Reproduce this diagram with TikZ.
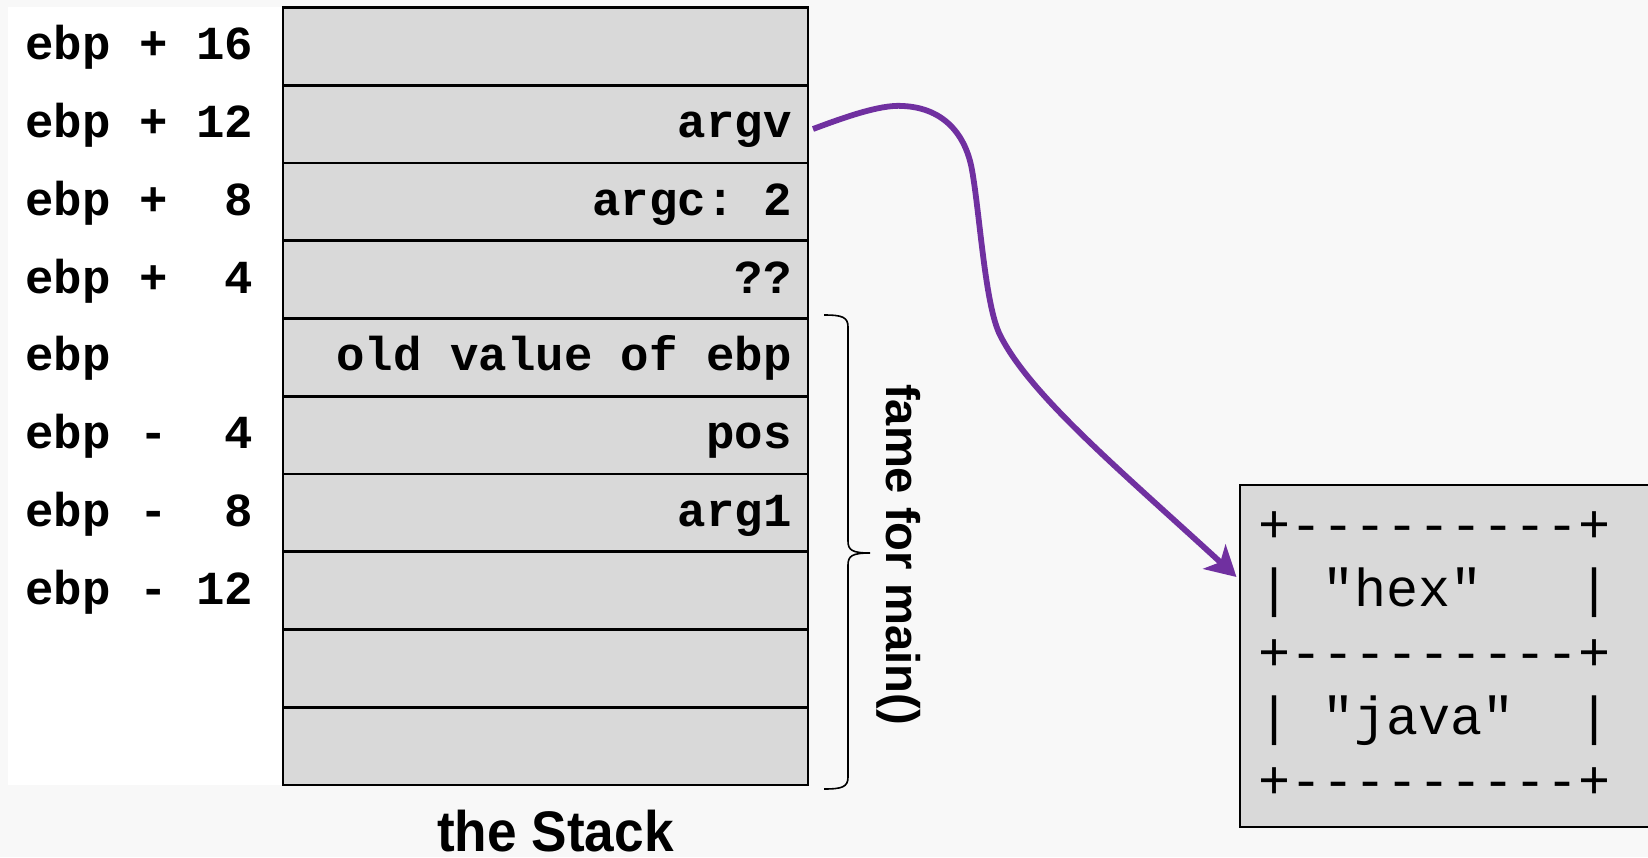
\documentclass[tikz,border=0pt]{standalone}
\usepackage{fontspec}
\setmonofont{Liberation Mono}
\newfontfamily\sansfam{Liberation Sans}
\usetikzlibrary{arrows.meta}
\definecolor{bgcol}{HTML}{F8F8F8}
\definecolor{cellgray}{HTML}{D9D9D9}
\definecolor{argpurple}{HTML}{7030A0}
\tikzset{
  cellbox/.style={draw, line width=1.4pt, fill=cellgray, minimum width=262.5pt,
    minimum height=38.88pt, anchor=north west, inner sep=0pt, outer sep=0pt},
  offlbl/.style={font=\ttfamily\bfseries\fontsize{23.7}{28}\selectfont, anchor=base west, inner sep=0pt},
  celltxt/.style={font=\ttfamily\bfseries\fontsize{23.7}{28}\selectfont, anchor=base east, inner sep=0pt},
  boxline/.style={font=\ttfamily\fontsize{26.7}{32}\selectfont, anchor=base west, inner sep=0pt},
  ptrline/.style={draw=argpurple, line width=2.9pt,
    -{Stealth[length=15pt, width=16.5pt, inset=4pt, color=argpurple]}},
  bracepath/.style={draw, line width=0.8pt},
}
\begin{document}
\begin{tikzpicture}[x=0.5pt,y=-0.5pt]
\useasboundingbox (0,0) rectangle (1648,857);
\clip (0,0) rectangle (1648,857);
\fill[bgcol] (0,0) rectangle (1648,857);
\fill[white] (8,7.4) rectangle (283,785);
% stack cells
\foreach \i in {0,...,9}{
  \node[cellbox] (c\i) at (283,{7.4+77.76*\i}) {};
}
% offsets
\node[offlbl] (o0) at (25,59.8) {ebp + 16};
\node[offlbl] (o1) at (25,137.6) {ebp + 12};
\node[offlbl] (o2) at (25,215.3) {ebp + \phantom{1}8};
\node[offlbl] (o3) at (25,293.1) {ebp + \phantom{1}4};
\node[offlbl] (o4) at (25,370.8) {ebp};
\node[offlbl] (o5) at (25,448.6) {ebp - \phantom{1}4};
\node[offlbl] (o6) at (25,526.4) {ebp - \phantom{1}8};
\node[offlbl] (o7) at (25,604.1) {ebp - 12};
% cell contents
\node[celltxt] (argv) at (792,137.6) {argv};
\node[celltxt] (argc) at (792,215.3) {argc: 2};
\node[celltxt] (ret) at (792,293.1) {??};
\node[celltxt] (oldebp) at (792,370.8) {old value of ebp};
\node[celltxt] (pos) at (792,448.6) {pos};
\node[celltxt] (arg1) at (792,526.4) {arg1};
% brace
\draw[bracepath] (824,315) .. controls (842,315) and (848,317) .. (848,327)
  -- (848,541) .. controls (848,550) and (852,553) .. (870,553)
  .. controls (852,553) and (848,556) .. (848,565)
  -- (848,777) .. controls (848,787) and (842,789) .. (824,789);
\node[rotate=-90, font=\sansfam\bfseries\fontsize{23.6}{28}\selectfont, inner sep=0pt] (frame) at (899,554.5) {fame for main()};
\node[font=\sansfam\bfseries\fontsize{28.6}{32}\selectfont, anchor=base, inner sep=0pt] (title) at (555.5,851) {\scalebox{0.93}[1]{the Stack}};
% strings box
\node[draw, line width=1pt, fill=cellgray, anchor=north west, minimum width=220pt,
  minimum height=171pt, inner sep=0pt] (box) at (1239.3,484) {};
\node[boxline] (b1) at (1258,542) {+---------+};
\node[boxline] (b2) at (1258,606) {|~"hex"~~~|};
\node[boxline] (b3) at (1258,670) {+---------+};
\node[boxline] (b4) at (1258,734) {|~"java"~~|};
\node[boxline] (b5) at (1258,798) {+---------+};
% pointer
\coordinate (ps) at (813,129);
\coordinate (pt) at (1236.5,577);
\draw[ptrline] (ps) .. controls (840,119) and (880,104) .. (903,106)
  .. controls (945,108) and (966,136) .. (972,170)
  .. controls (980,215) and (985,305) .. (1000,335)
  .. controls (1030,395) and (1120,470) .. (pt);
\end{tikzpicture}
\end{document}
